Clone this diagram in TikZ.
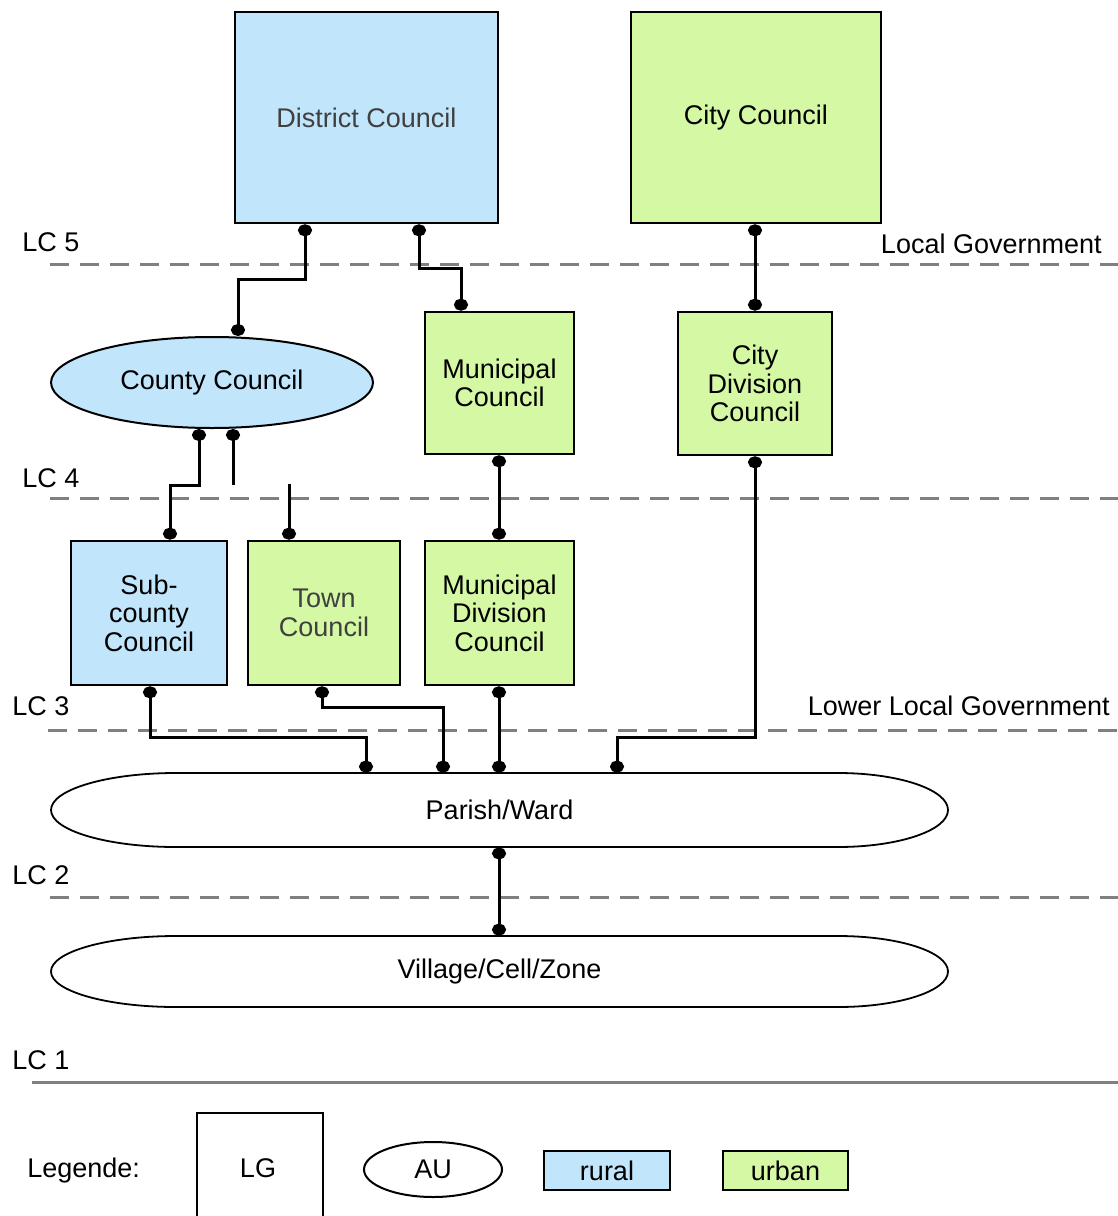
\documentclass[tikz,border=0pt]{standalone}
\usepackage{fontspec}
\setmainfont{Liberation Sans}
\usetikzlibrary{arrows.meta,shapes.geometric}
\definecolor{ruralblue}{RGB}{193,229,251}
\definecolor{urbangreen}{RGB}{212,248,164}
\definecolor{levelgray}{RGB}{128,128,128}
\tikzset{
  blob/.tip={Circle[length=6pt,width=7pt]},
}
\begin{document}
\begin{tikzpicture}[x=0.5pt,y=-0.5pt,
  every node/.style={font=\fontsize{13.5}{14.3}\selectfont, inner sep=0pt, align=center},
  box/.style={draw=black, line width=1.3pt},
  ruralbox/.style={box, fill=ruralblue},
  urbanbox/.style={box, fill=urbangreen},
  conn/.style={line width=1.5pt, line join=miter},
  linked/.style={conn, blob-blob},
  level/.style={draw=levelgray, line width=1.5pt, dash pattern=on 9.5pt off 5.5pt},
  lvlabel/.style={anchor=base west},
  tier/.style={anchor=base east},
  unitline/.style={line width=0.9pt}
]
\useasboundingbox (0,0) rectangle (1118,1216);

% ---- level separators ----
\draw[level] (50,264) -- (1118,264);
\draw[level] (50,498) -- (1118,498);
\draw[level] (48,730) -- (1118,730);
\draw[level] (50,897) -- (1118,897);
\draw[draw=levelgray, line width=1.5pt] (32,1082) -- (1118,1082);

\node[lvlabel] (lc5) at (22,251.7) {LC 5};
\node[lvlabel] (lc4) at (22,487.7) {LC 4};
\node[lvlabel] (lc3) at (12,715.7) {LC 3};
\node[lvlabel] (lc2) at (12,884.7) {LC 2};
\node[lvlabel] (lc1) at (12,1069.7) {LC 1};
\node[tier] (lg-tier) at (1102,253.7) {Local Government};
\node[tier] (llg-tier) at (1110,715.7) {Lower Local Government};

% ---- councils ----
\node[ruralbox, minimum width=131.5pt, minimum height=105.5pt, text=black!75] (district) at (366.5,117.5) {District Council};
\node[urbanbox, minimum width=125pt, minimum height=105.5pt] (city) at (756,117.5) {City Council};
\node[ruralbox, ellipse, line width=1pt, minimum width=161pt, minimum height=45.5pt] (county) at (212,382.5) {County Council};
\node[urbanbox, minimum width=74.5pt, minimum height=71pt] (municipal) at (499.5,383) {Municipal\\Council};
\node[urbanbox, minimum width=77pt, minimum height=71.5pt] (citydiv) at (755,383.5) {City\\Division\\Council};
\node[ruralbox, minimum width=78pt, minimum height=72pt] (subcounty) at (149,613) {Sub-\\county\\Council};
\node[urbanbox, minimum width=76pt, minimum height=72pt, text=black!75] (town) at (324,613) {Town\\Council};
\node[urbanbox, minimum width=74.5pt, minimum height=72pt] (munidiv) at (499.5,613) {Municipal\\Division\\Council};

% ---- administrative units (elongated outlines) ----
\node[minimum width=448.5pt, minimum height=37pt] (parish) at (499.5,810) {Parish/Ward};
\draw[unitline] (176,773) -- (838,773)
  .. controls (898.75,773) and (948,789.6) .. (948,810)
  .. controls (948,830.4) and (898.75,847) .. (838,847)
  -- (176,847)
  .. controls (107,847) and (51,830.4) .. (51,810)
  .. controls (51,789.6) and (107,773) .. (176,773) -- cycle;

\node[minimum width=448.5pt, minimum height=35.5pt] (village) at (499.5,971.5) {Village/Cell/Zone};
\draw[unitline] (176,936) -- (838,936)
  .. controls (898.75,936) and (948,951.9) .. (948,971.5)
  .. controls (948,991.1) and (898.75,1007) .. (838,1007)
  -- (176,1007)
  .. controls (107,1007) and (51,991.1) .. (51,971.5)
  .. controls (51,951.9) and (107,936) .. (176,936) -- cycle;

% ---- links ----
\draw[linked] (district.south -| 305,0) -- (305,279) -| (county.north -| 238,0);
\draw[linked] (district.south -| 419,0) -- (419,268) -| (municipal.north -| 461,0);
\draw[linked] (city.south -| 755,0) -- (citydiv.north -| 755,0);
\draw[linked] (county.south -| 199,0) -- (199,485) -| (subcounty.north -| 170,0);
\coordinate (stubA) at (233,485);
\coordinate (stubB) at (289,484);
\draw[conn, blob-] (county.south -| 233,0) -- (stubA);
\draw[conn, -blob] (stubB) -- (town.north -| 289,0);
\draw[linked] (municipal.south -| 499,0) -- (munidiv.north -| 499,0);
\draw[linked] (citydiv.south -| 755,0) -- (755,737) -| (parish.north -| 617,0);
\draw[linked] (subcounty.south -| 150,0) -- (150,737) -| (parish.north -| 366,0);
\draw[linked] (town.south -| 322,0) -- (322,707) -| (parish.north -| 443,0);
\draw[linked] (munidiv.south -| 499,0) -- (parish.north -| 499,0);
\draw[linked] (parish.south -| 499,0) -- (village.north -| 499,0);

% ---- legend ----
\node[anchor=base west] (legend) at (27,1177.7) {Legende:};
\node (lgkey) at (258,1168) {LG};
\draw[line width=0.8pt] (197,1216) -- (197,1113) -- (323,1113) -- (323,1216);
\node[draw, ellipse, line width=1pt, minimum width=69pt, minimum height=27.5pt] (aukey) at (433,1169.5) {AU};
\node[ruralbox, minimum width=63pt, minimum height=19.5pt] (ruralkey) at (607,1170.5) {rural};
\node[urbanbox, minimum width=62.5pt, minimum height=19.5pt] (urbankey) at (785.5,1170.5) {urban};
\end{tikzpicture}
\end{document}
